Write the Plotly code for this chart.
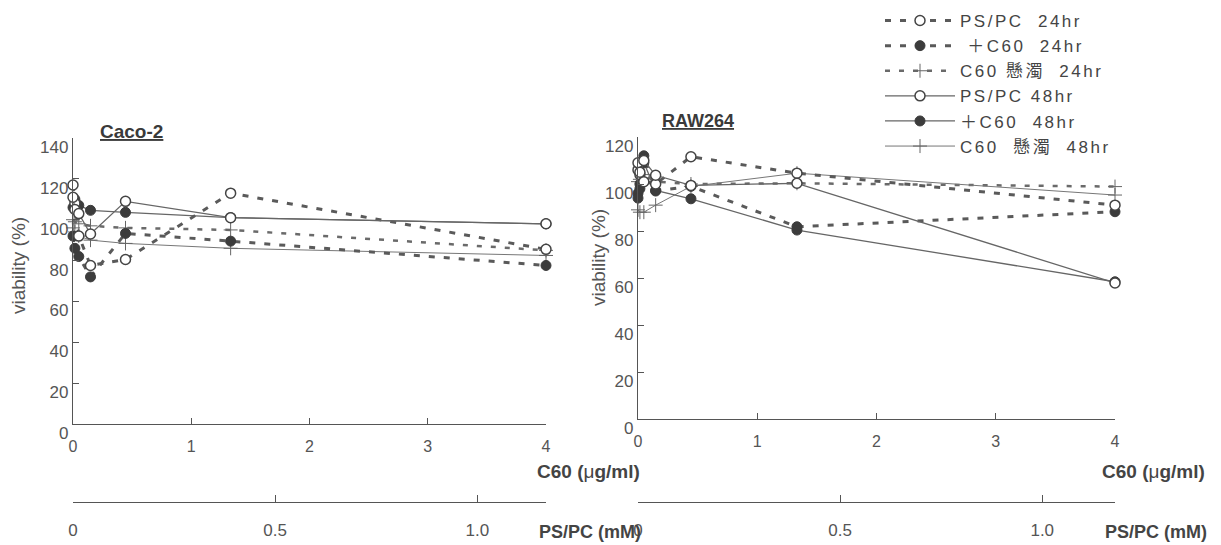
import plotly.graph_objects as go

# ---- data ----
conc = [0, 0.016, 0.049, 0.148, 0.444, 1.333, 4]   # C60 (ug/ml)

series_names = ["PS/PC\u00a0\u00a024hr", "\u00a0\uff0bC60\u00a0\u00a024hr", "C60 \u61f8\u6fc1\u00a0\u00a024hr",
                "PS/PC 48hr", "\uff0bC60\u00a0\u00a048hr", "C60\u00a0\u00a0\u61f8\u6fc1\u00a0\u00a048hr"]

# Caco-2
caco_ps24 = [117, 108, 92, 77.6, 80.5, 113, 85.5]
caco_c24 = [92, 86, 82, 72, 93.3, 89.5, 77.6]
caco_s24 = [100, 99, 98, 97, 96, 95, 85]
caco_ps48 = [111, 105, 103, 93, 109, 101, 98]
caco_c48 = [106, 110, 107, 104.6, 103.6, 101, 98]
caco_s48 = [96, 94, 92, 90, 88.4, 86, 82.5]

# RAW264
raw_ps24 = [106, 104, 101, 100, 111.6, 104.6, 91]
raw_c24 = [96, 100, 112, 97, 99, 81.8, 88.2]
raw_s24 = [101, 102, 104, 101, 100, 100.3, 98.9]
raw_ps48 = [109, 105, 110, 103.7, 99.4, 100.3, 57.9]
raw_c48 = [94, 98, 109, 97.3, 93.7, 80.4, 58.4]
raw_s48 = [89, 88, 88, 91, 99, 104.6, 95.3]

c60_ticks = [0, 1, 2, 3, 4]
pspc_ticks = [0, 0.5, 1.0]
pspc_ticktext = ["0", "0.5", "1.0"]

W, H = 1221, 545
FONT = "Liberation Sans, Arial, Noto Sans CJK TC"
GRAY = "#555555"

def px_x(p):
    return p / W

def px_y(p):
    return 1 - p / H

styles = {
    "ps24": dict(line=dict(color="#5a5a5a", width=3, dash="6px,9px"),
                 marker=dict(symbol="circle", size=10, color="white", line=dict(color="#444", width=1.5))),
    "c24": dict(line=dict(color="#5a5a5a", width=3, dash="6px,9px"),
                marker=dict(symbol="circle", size=10, color="#3c3c3c", line=dict(color="#3c3c3c", width=1))),
    "s24": dict(line=dict(color="#6a6a6a", width=2.5, dash="5px,9px"),
                marker=dict(symbol="cross-thin", size=10, color="#666", line=dict(color="#666", width=1))),
    "ps48": dict(line=dict(color="#666", width=1.3),
                 marker=dict(symbol="circle", size=10, color="white", line=dict(color="#444", width=1.5))),
    "c48": dict(line=dict(color="#666", width=1.3),
                marker=dict(symbol="circle", size=10, color="#3c3c3c", line=dict(color="#3c3c3c", width=1))),
    "s48": dict(line=dict(color="#777", width=1),
                marker=dict(symbol="cross-thin", size=10, color="#666", line=dict(color="#666", width=1))),
}
keys = ["ps24", "c24", "s24", "ps48", "c48", "s48"]
caco = dict(ps24=caco_ps24, c24=caco_c24, s24=caco_s24, ps48=caco_ps48, c48=caco_c48, s48=caco_s48)
raw = dict(ps24=raw_ps24, c24=raw_c24, s24=raw_s24, ps48=raw_ps48, c48=raw_c48, s48=raw_s48)
draw_order = ["s24", "s48", "c24", "c48", "ps24", "ps48"]

fig = go.Figure()
for k in draw_order:
    i = keys.index(k)
    label = '<span style="letter-spacing:2.5px">%s</span>' % series_names[i]
    fig.add_trace(go.Scatter(x=conc, y=caco[k], mode="lines+markers", name=label,
                             legendgroup=k, legendrank=i + 1, showlegend=True, cliponaxis=False,
                             xaxis="x", yaxis="y", hoverinfo="skip", **styles[k]))
for k in draw_order:
    i = keys.index(k)
    fig.add_trace(go.Scatter(x=conc, y=raw[k], mode="lines+markers", name=series_names[i],
                             legendgroup=k, legendrank=i + 1, showlegend=False, cliponaxis=False,
                             xaxis="x2", yaxis="y2", hoverinfo="skip", **styles[k]))

# dummy traces so the PS/PC axes are drawn
fig.add_trace(go.Scatter(x=[None], y=[None], xaxis="x3", yaxis="y", showlegend=False, hoverinfo="skip"))
fig.add_trace(go.Scatter(x=[None], y=[None], xaxis="x4", yaxis="y2", showlegend=False, hoverinfo="skip"))

xl = [px_x(73), px_x(546)]
xr = [px_x(638), px_x(1115)]

common_x = dict(showline=True, linecolor=GRAY, linewidth=1.3, ticks="inside", ticklen=6,
                tickcolor=GRAY, showgrid=False, zeroline=False,
                tickfont=dict(family=FONT, size=16, color="#555"))
common_y = dict(showline=True, linecolor=GRAY, linewidth=1.3, ticks="inside", ticklen=6,
                tickcolor=GRAY, showgrid=False, zeroline=False, dtick=20,
                tickfont=dict(family=FONT, size=17, color="#555"), ticklabelshift=9)

pspc_font = dict(family=FONT, size=17, color="#555")

fig.update_layout(
    width=W, height=H, margin=dict(l=0, r=0, t=0, b=0, autoexpand=False),
    paper_bgcolor="white", plot_bgcolor="rgba(0,0,0,0)",
    xaxis=dict(domain=xl, range=[0, 4], anchor="y", tickvals=c60_ticks, ticklabelstandoff=8, **common_x),
    yaxis=dict(domain=[px_y(424), px_y(138)], range=[0, 140], anchor="x", **common_y),
    xaxis2=dict(domain=xr, range=[0, 4], anchor="y2", tickvals=c60_ticks, ticklabelstandoff=8, **common_x),
    yaxis2=dict(domain=[px_y(419), px_y(137)], range=[0, 120], anchor="x2", **common_y),
    xaxis3=dict(overlaying="x", anchor="free", position=px_y(502), range=[0, 1.17],
                tickvals=pspc_ticks, ticktext=pspc_ticktext, ticklabelstandoff=12,
                **{**common_x, "ticklen": 7, "tickfont": pspc_font}),
    xaxis4=dict(overlaying="x2", anchor="free", position=px_y(502), range=[0, 1.18],
                tickvals=pspc_ticks, ticktext=pspc_ticktext, ticklabelstandoff=12,
                **{**common_x, "ticklen": 7, "tickfont": pspc_font}),
    legend=dict(x=px_x(880), y=px_y(3), xanchor="left", yanchor="top", bgcolor="rgba(0,0,0,0)",
                font=dict(family=FONT, size=17, color="#444"), itemwidth=70, tracegroupgap=14,
                traceorder="normal"),
    showlegend=True,
)

ann = []
def add_text(text, x, y, size=17, bold=False, xanchor="center", angle=0, color="#444"):
    ann.append(dict(text=("<b>%s</b>" % text) if bold else text, x=px_x(x), y=px_y(y),
                    xref="paper", yref="paper", showarrow=False, xanchor=xanchor, yanchor="middle",
                    textangle=angle, font=dict(family=FONT, size=size, color=color)))

add_text("<u>Caco-2</u>", 131, 131, size=19, bold=True, color="#3a3a3a")
add_text("<u>RAW264</u>", 698, 121, size=18, bold=True, color="#3a3a3a")
add_text("viability (%)", 18, 266, size=19, angle=-90, color="#555")
add_text("viability (%)", 598, 258, size=19, angle=-90, color="#555")
add_text("<b>C60 (</b>\u03bc<b>g/ml)</b>", 642, 471, size=19, xanchor="right")
add_text("<b>C60 (</b>\u03bc<b>g/ml)</b>", 1207, 471, size=19, xanchor="right")
add_text("PS/PC (mM)", 537, 532, size=18, bold=True, xanchor="left")
add_text("PS/PC (mM)", 1103, 532, size=18, bold=True, xanchor="left")
fig.update_layout(annotations=ann)

fig.write_html("out.html", config={"displayModeBar": False},
               post_script="document.body.style.margin='0px';document.body.style.overflow='hidden';")
